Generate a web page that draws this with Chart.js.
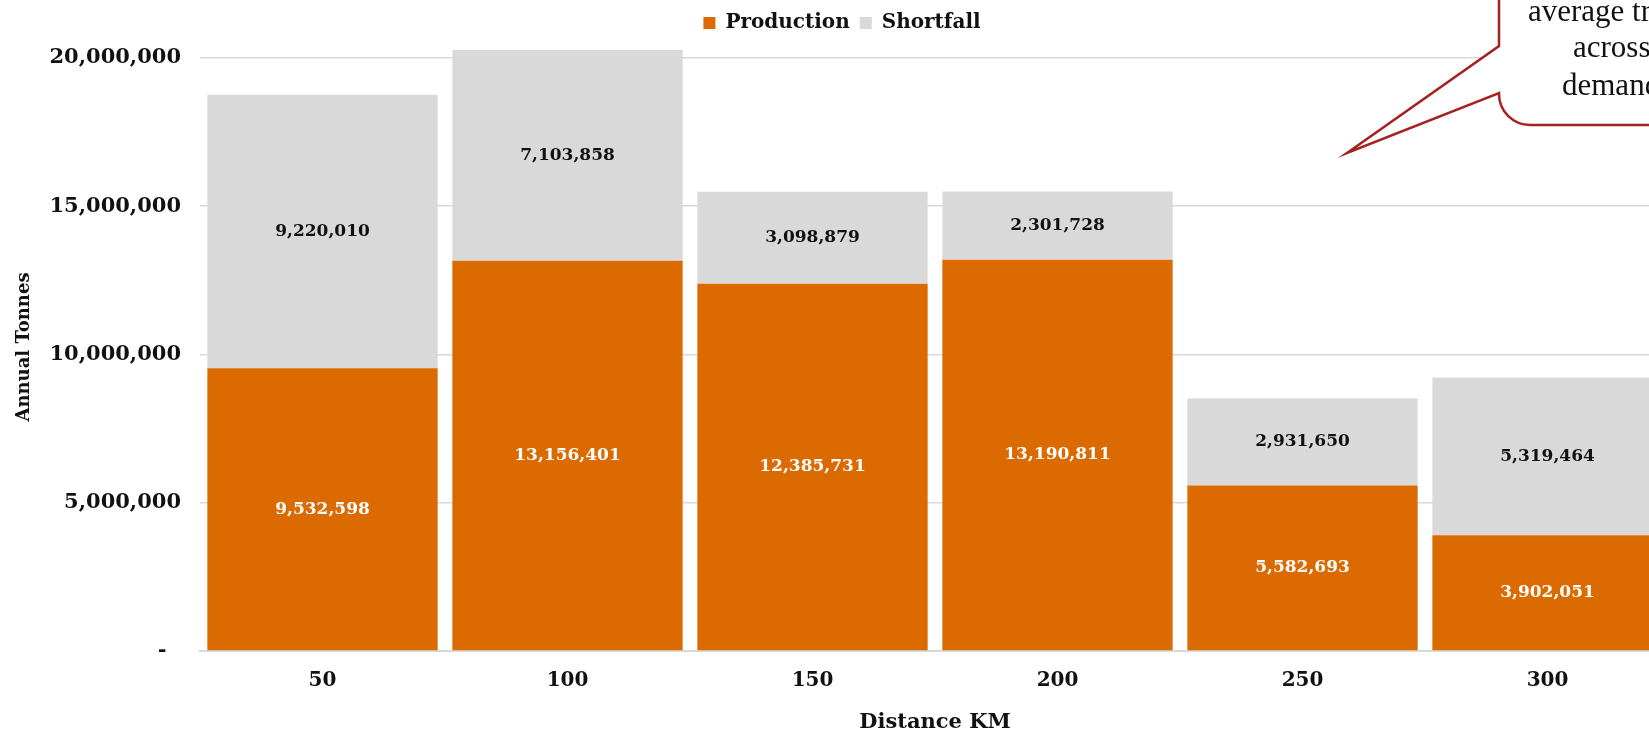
<!DOCTYPE html>
<html>
<head>
<meta charset="utf-8">
<script src="https://cdn.jsdelivr.net/npm/chart.js@4.4.0/dist/chart.umd.min.js"></script>
<style>
html,body{margin:0;padding:0;overflow:hidden;background:#fff;}
#wrap{position:relative;width:1690px;height:735px;}
</style>
</head>
<body>
<div id="wrap"><canvas id="c"></canvas></div>
<script>
const categories = ['50', '100', '150', '200', '250', '300'];
const production = [9532598, 13156401, 12385731, 13190811, 5582693, 3902051];
const shortfall = [9220010, 7103858, 3098879, 2301728, 2931650, 5319464];
const yTicks = [0, 5000000, 10000000, 15000000, 20000000];
const calloutLines = ['average tr', 'across', 'demand'];

const SERIF = '"DejaVu Serif", Georgia, serif';
const fmt = v => v.toLocaleString('en-US');

const labelPlugin = {
  id: 'segLabels',
  afterDatasetsDraw(chart) {
    const ctx = chart.ctx;
    ctx.save();
    ctx.font = 'bold 17px ' + SERIF;
    ctx.textAlign = 'center';
    ctx.textBaseline = 'middle';
    chart.data.datasets.forEach((ds, di) => {
      const meta = chart.getDatasetMeta(di);
      meta.data.forEach((bar, i) => {
        const y = (bar.y + bar.base) / 2;
        ctx.fillStyle = di === 0 ? '#ffffff' : '#111111';
        ctx.fillText(fmt(ds.data[i]), bar.x, y);
      });
    });
    ctx.restore();
  }
};

const calloutPlugin = {
  id: 'callout',
  afterDraw(chart) {
    const ctx = chart.ctx;
    ctx.save();
    ctx.beginPath();
    ctx.moveTo(1499, -10);
    ctx.lineTo(1499, 46);
    ctx.lineTo(1347, 153);
    ctx.lineTo(1499, 93);
    ctx.arc(1530, 94, 31, Math.PI, Math.PI / 2, true);
    ctx.lineTo(1720, 125);
    ctx.lineTo(1720, -10);
    ctx.closePath();
    ctx.fillStyle = '#ffffff';
    ctx.fill();
    ctx.strokeStyle = '#A52222';
    ctx.lineWidth = 2.5;
    ctx.lineJoin = 'miter';
    ctx.stroke();
    ctx.fillStyle = '#111111';
    ctx.font = '31px "Liberation Serif", "Times New Roman", serif';
    ctx.textAlign = 'left';
    ctx.textBaseline = 'alphabetic';
    ctx.fillText(calloutLines[0], 1528, 21);
    ctx.fillText(calloutLines[1], 1573, 57);
    ctx.fillText(calloutLines[2], 1562, 95);
    ctx.restore();
  }
};

new Chart(document.getElementById('c'), {
  type: 'bar',
  data: {
    labels: categories,
    datasets: [
      { label: 'Production', data: production, backgroundColor: '#DB6A00', borderWidth: 0 },
      { label: 'Shortfall', data: shortfall, backgroundColor: '#D9D9D9', borderWidth: 0 }
    ]
  },
  options: {
    responsive: true,
    maintainAspectRatio: false,
    animation: false,
    layout: { padding: { left: 14, right: 20, top: 3, bottom: 0 } },
    datasets: { bar: { categoryPercentage: 1.0, barPercentage: 0.94 } },
    plugins: {
      legend: {
        position: 'top',
        labels: {
          boxWidth: 12, boxHeight: 12, padding: 10,
          color: '#111', font: { family: SERIF, size: 20, weight: 'bold' }
        }
      },
      tooltip: { enabled: false }
    },
    scales: {
      x: {
        stacked: true,
        grid: { display: false, drawTicks: false },
        border: { display: true, color: '#D9D9D9', width: 2 },
        ticks: { padding: 18, color: '#111', font: { family: SERIF, size: 20, weight: 'bold' } },
        title: { display: true, text: 'Distance KM', color: '#111', padding: { top: 0, bottom: 0 },
                 font: { family: SERIF, size: 21, weight: 'bold' } },
        afterFit(s) { s.height = 84; }
      },
      y: {
        stacked: true,
        min: 0,
        max: 20500000,
        afterBuildTicks(s) { s.ticks = yTicks.map(v => ({ value: v })); },
        grid: { color: '#D9D9D9', lineWidth: 1.5, drawTicks: false },
        border: { display: false },
        ticks: {
          padding: 19, color: '#111',
          font: { family: SERIF, size: 21, weight: 'bold' },
          callback: v => v === 0 ? '-  ' : fmt(v)
        },
        title: { display: true, text: 'Annual Tonnes', color: '#111', padding: { top: 0, bottom: 0 },
                 font: { family: SERIF, size: 18, weight: 'bold' } },
        afterFit(s) { s.width = 186; }
      }
    }
  },
  plugins: [labelPlugin, calloutPlugin]
});
</script>
</body>
</html>
